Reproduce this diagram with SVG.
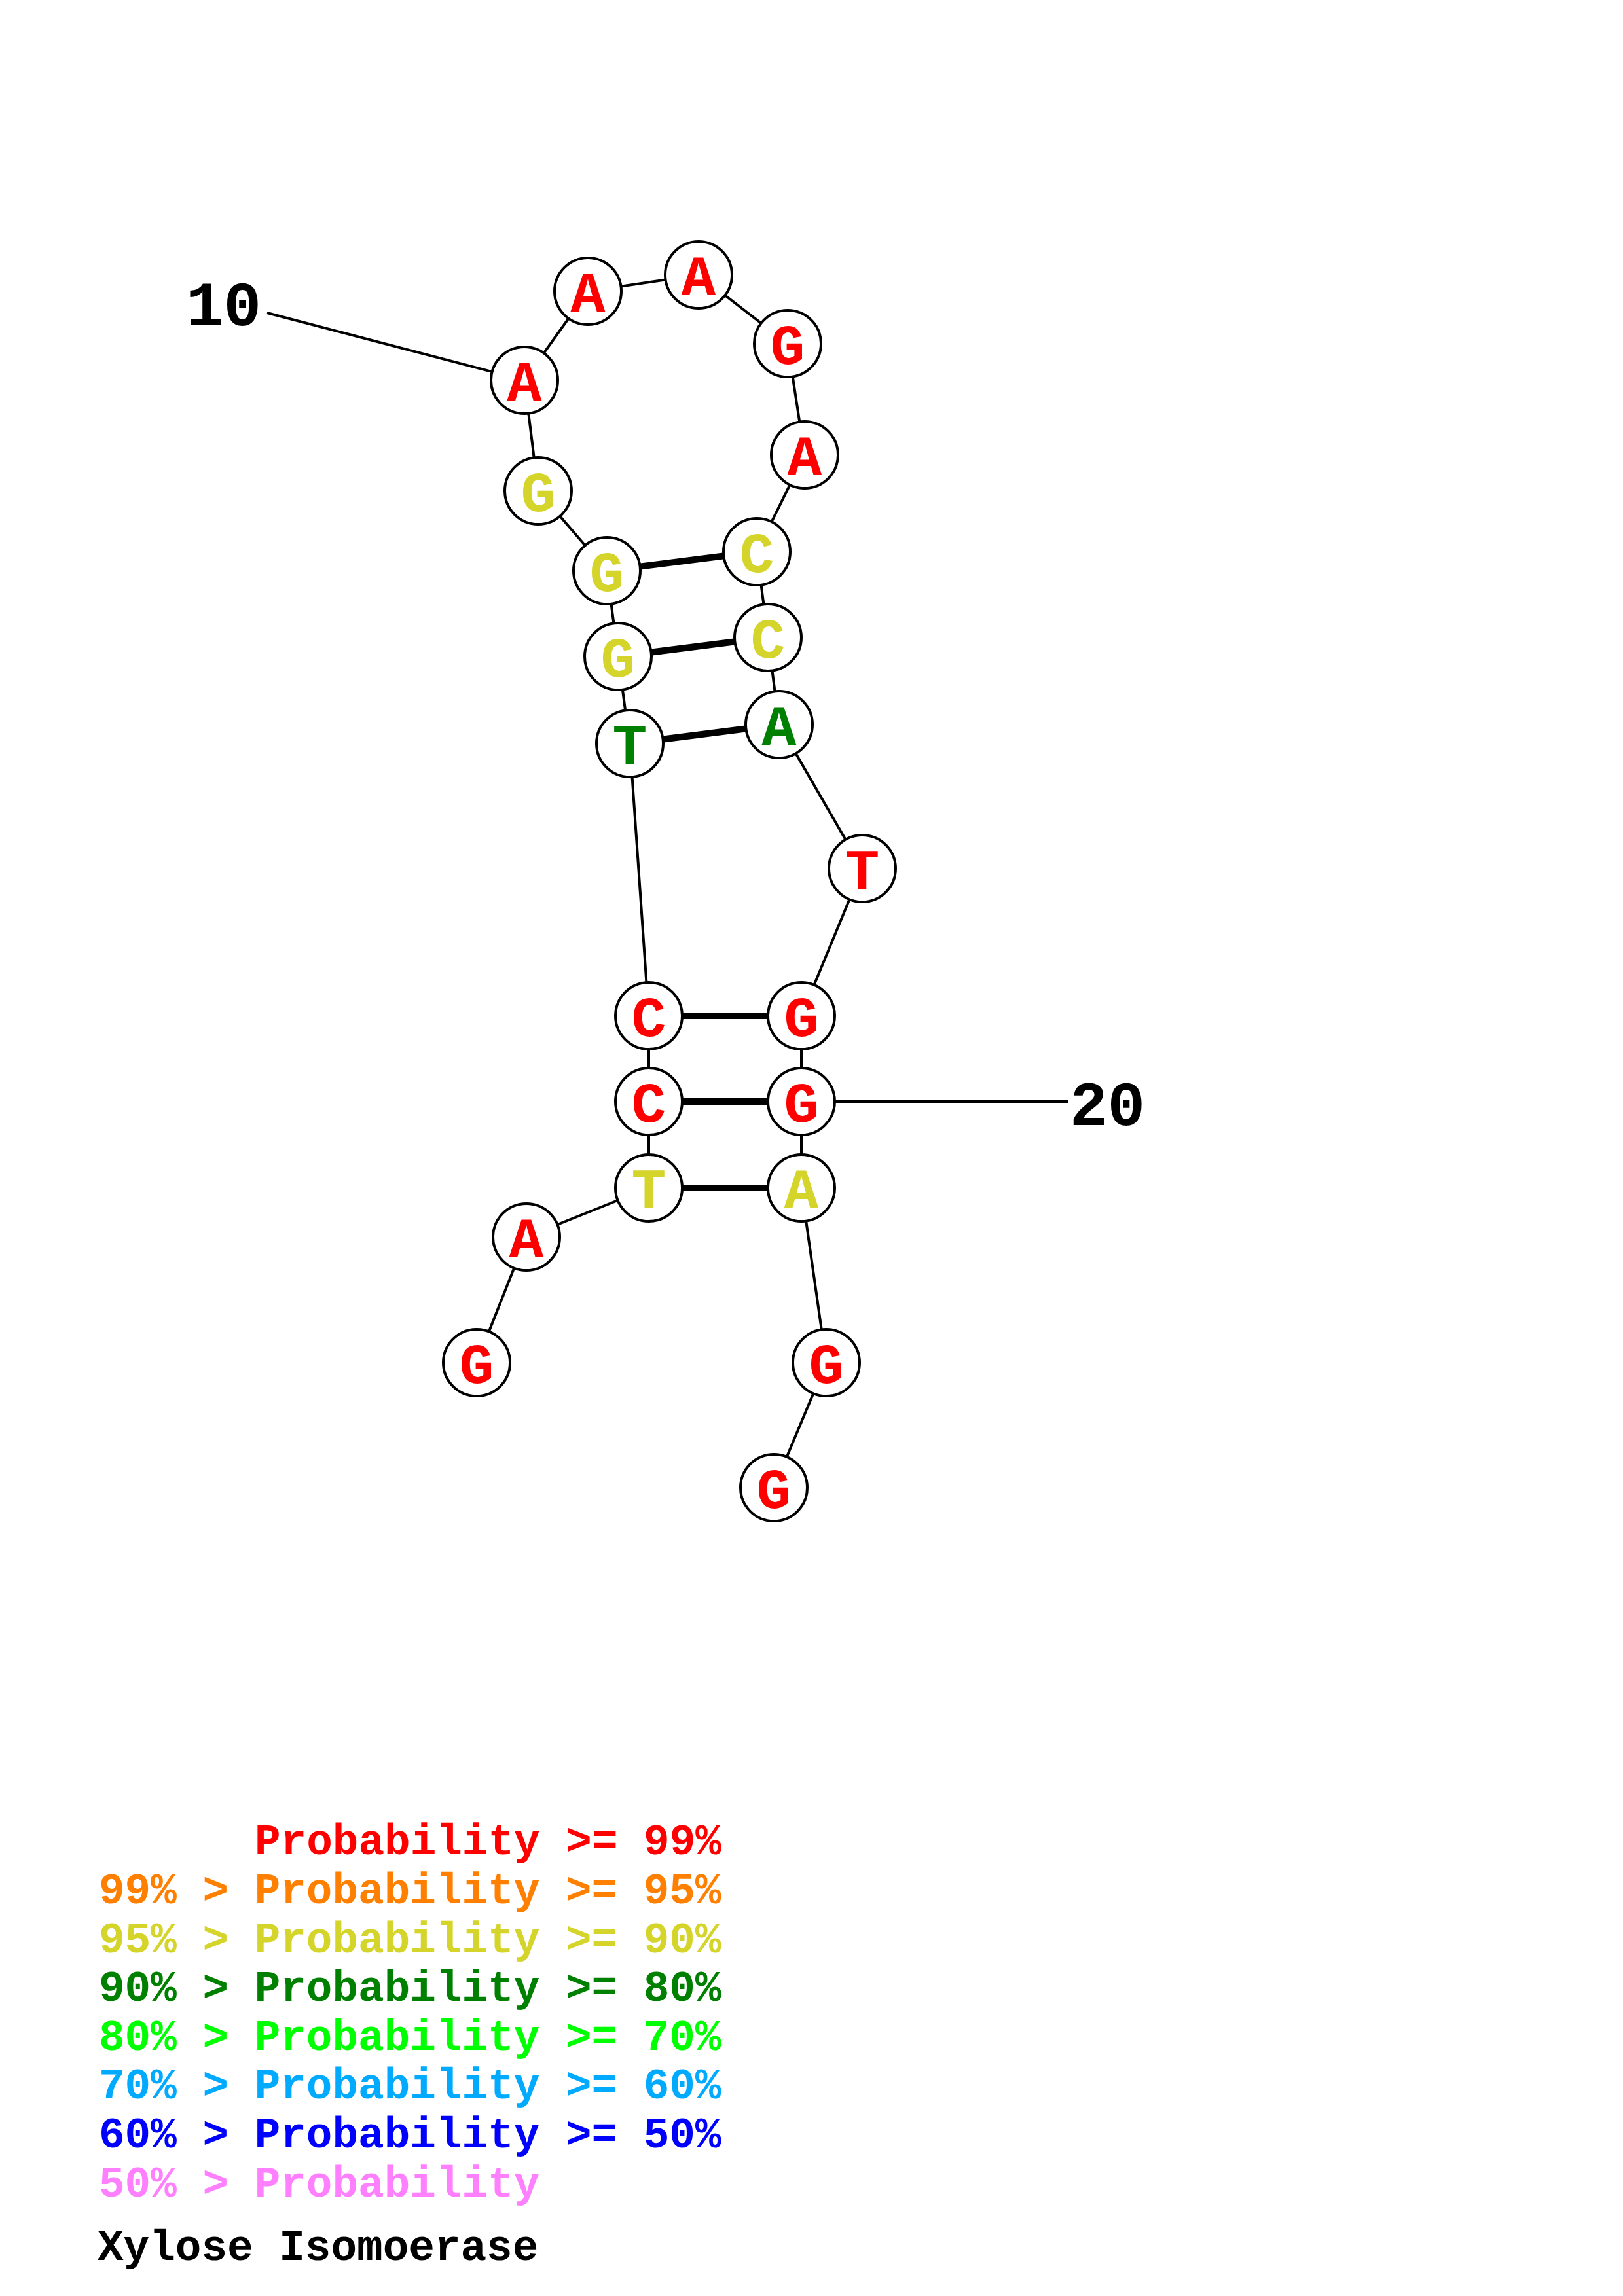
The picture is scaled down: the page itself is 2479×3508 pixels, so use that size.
<svg xmlns="http://www.w3.org/2000/svg" width="2479" height="3508" viewBox="0 0 2479 3508">
<style>
.bb{stroke:#000;stroke-width:4;fill:none}
.bp{stroke:#000;stroke-width:10;fill:none}
.nc{fill:#fff;stroke:#000;stroke-width:4}
.nt{font-family:"Liberation Mono",monospace;font-weight:bold;font-size:88px;text-anchor:middle}
.lb{font-family:"Liberation Mono",monospace;font-weight:bold;font-size:96px;fill:#000}
.lg{font-family:"Liberation Mono",monospace;font-weight:bold;font-size:66px}
.r{fill:#FF0000}.o{fill:#FF8000}.y{fill:#D4D42A}.g{fill:#008000}.lgn{fill:#00FF00}.lb2{fill:#00AAFF}.b{fill:#0000FF}.p{fill:#FF80FF}.k{fill:#000}
</style>
<rect width="2479" height="3508" fill="#fff"/>
<g id="connectors">
<line class="bb" x1="408" y1="478" x2="801" y2="581"/>
<line class="bb" x1="1224" y1="1683" x2="1631" y2="1683"/>
<polyline class="bb" points="728,2082 804,1890 991,1815 991,1683 991,1552 962,1136 944,1003 927,872 822,750 801,581 898,445 1067,420 1203,525 1229,695 1156,843 1173,974 1190,1107 1317,1327 1224,1552 1224,1683 1224,1815 1262,2082 1182,2273"/>
<line class="bp" x1="991" y1="1815" x2="1224" y2="1815"/>
<line class="bp" x1="991" y1="1683" x2="1224" y2="1683"/>
<line class="bp" x1="991" y1="1552" x2="1224" y2="1552"/>
<line class="bp" x1="962" y1="1136" x2="1190" y2="1107"/>
<line class="bp" x1="944" y1="1003" x2="1173" y2="974"/>
<line class="bp" x1="927" y1="872" x2="1156" y2="843"/>
</g>
<g id="n1"><circle class="nc" cx="728" cy="2082" r="51"/><text class="nt r" x="728" y="2113">G</text></g>
<g id="n2"><circle class="nc" cx="804" cy="1890" r="51"/><text class="nt r" x="804" y="1921">A</text></g>
<g id="n3"><circle class="nc" cx="991" cy="1815" r="51"/><text class="nt y" x="991" y="1846">T</text></g>
<g id="n4"><circle class="nc" cx="991" cy="1683" r="51"/><text class="nt r" x="991" y="1714">C</text></g>
<g id="n5"><circle class="nc" cx="991" cy="1552" r="51"/><text class="nt r" x="991" y="1583">C</text></g>
<g id="n6"><circle class="nc" cx="962" cy="1136" r="51"/><text class="nt g" x="962" y="1167">T</text></g>
<g id="n7"><circle class="nc" cx="944" cy="1003" r="51"/><text class="nt y" x="944" y="1034">G</text></g>
<g id="n8"><circle class="nc" cx="927" cy="872" r="51"/><text class="nt y" x="927" y="903">G</text></g>
<g id="n9"><circle class="nc" cx="822" cy="750" r="51"/><text class="nt y" x="822" y="781">G</text></g>
<g id="n10"><circle class="nc" cx="801" cy="581" r="51"/><text class="nt r" x="801" y="612">A</text></g>
<g id="n11"><circle class="nc" cx="898" cy="445" r="51"/><text class="nt r" x="898" y="476">A</text></g>
<g id="n12"><circle class="nc" cx="1067" cy="420" r="51"/><text class="nt r" x="1067" y="451">A</text></g>
<g id="n13"><circle class="nc" cx="1203" cy="525" r="51"/><text class="nt r" x="1203" y="556">G</text></g>
<g id="n14"><circle class="nc" cx="1229" cy="695" r="51"/><text class="nt r" x="1229" y="726">A</text></g>
<g id="n15"><circle class="nc" cx="1156" cy="843" r="51"/><text class="nt y" x="1156" y="874">C</text></g>
<g id="n16"><circle class="nc" cx="1173" cy="974" r="51"/><text class="nt y" x="1173" y="1005">C</text></g>
<g id="n17"><circle class="nc" cx="1190" cy="1107" r="51"/><text class="nt g" x="1190" y="1138">A</text></g>
<g id="n18"><circle class="nc" cx="1317" cy="1327" r="51"/><text class="nt r" x="1317" y="1358">T</text></g>
<g id="n19"><circle class="nc" cx="1224" cy="1552" r="51"/><text class="nt r" x="1224" y="1583">G</text></g>
<g id="n20"><circle class="nc" cx="1224" cy="1683" r="51"/><text class="nt r" x="1224" y="1714">G</text></g>
<g id="n21"><circle class="nc" cx="1224" cy="1815" r="51"/><text class="nt y" x="1224" y="1846">A</text></g>
<g id="n22"><circle class="nc" cx="1262" cy="2082" r="51"/><text class="nt r" x="1262" y="2113">G</text></g>
<g id="n23"><circle class="nc" cx="1182" cy="2273" r="51"/><text class="nt r" x="1182" y="2304">G</text></g>
<g id="labels">
<text class="lb" x="284" y="497">10</text>
<text class="lb" x="1634" y="1719">20</text>
</g>
<g id="legend">
<text class="lg r" x="389" y="2833">Probability &gt;= 99%</text>
<text class="lg o" x="151" y="2908">99% &gt; Probability &gt;= 95%</text>
<text class="lg y" x="151" y="2983">95% &gt; Probability &gt;= 90%</text>
<text class="lg g" x="151" y="3057">90% &gt; Probability &gt;= 80%</text>
<text class="lg lgn" x="151" y="3132">80% &gt; Probability &gt;= 70%</text>
<text class="lg lb2" x="151" y="3206">70% &gt; Probability &gt;= 60%</text>
<text class="lg b" x="151" y="3281">60% &gt; Probability &gt;= 50%</text>
<text class="lg p" x="151" y="3356">50% &gt; Probability</text>
<text class="lg k" x="149" y="3453">Xylose Isomoerase</text>
</g>
</svg>
